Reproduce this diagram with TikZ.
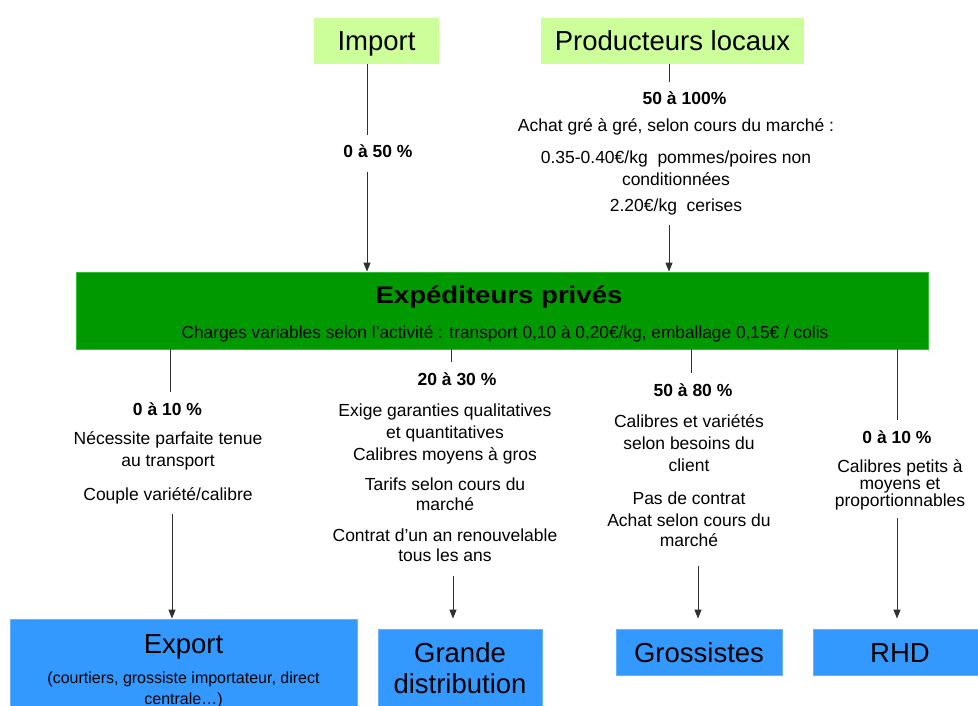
\documentclass[tikz,border=0pt]{standalone}
\usepackage{fontspec}
\setmainfont{Liberation Sans}
\usetikzlibrary{arrows.meta, positioning, calc}
\definecolor{lightgreen}{HTML}{CCFF99}
\definecolor{darkgreen}{HTML}{009900}
\definecolor{edgegreen}{HTML}{33BB33}
\definecolor{skyblue}{HTML}{3399FF}
\definecolor{linegray}{HTML}{303030}
\newcommand{\bigtxt}{\fontsize{27.5}{31}\selectfont}
\newcommand{\midtxt}{\fontsize{17.5}{22}\selectfont}
\newcommand{\smalltxt}{\fontsize{16}{21}\selectfont}

\begin{document}
\begin{tikzpicture}[x=1pt, y=-1pt, >={Triangle[length=9pt,width=7pt]},
    source/.style={fill=lightgreen, minimum height=46pt, inner sep=0pt, font=\bigtxt,
        text height=20pt, text depth=0pt},
    client/.style={fill=skyblue, draw=skyblue!75!white, line width=0.8pt, inner sep=0pt},
    pct/.style={font=\midtxt\bfseries, inner xsep=0pt, inner ysep=7pt, anchor=base,
        execute at begin node=\strut},
    note/.style={font=\midtxt, align=center, inner xsep=0pt, inner ysep=7pt, anchor=north,
        execute at begin node=\strut, execute at end node=\strut},
    link/.style={draw=linegray, line width=1pt}]
    \useasboundingbox (0,0) rectangle (978,706);

    % Sources
    \node[source, minimum width=125pt] (imp) at (376.5,41) {Import};
    \node[source, minimum width=263pt] (prod) at (672.5,41) {Producteurs locaux};

    % Shippers
    \node[fill=darkgreen, draw=edgegreen, line width=0.8pt, minimum width=852pt,
        minimum height=77pt] (exped) at (502,310.5) {};
    \node[font=\fontsize{24}{28}\selectfont\bfseries\addfontfeature{FakeStretch=1.15},
        text height=17pt, text depth=0pt, inner sep=0pt] (exptitle) at (499,294.5) {Expéditeurs privés};
    \node[font=\fontsize{17.3}{20}\selectfont, text height=12.5pt, text depth=0pt, inner sep=0pt]
        (expsub) at (505,332.5)
        {Charges variables selon l'activité : transport 0,10 à 0,20€/kg, emballage 0,15€ / colis};

    % Clients
    \node[client, minimum width=347pt, minimum height=96pt] (export) at (183.5,667) {};
    \node[font=\bigtxt, text height=20pt, text depth=0pt, inner sep=0pt] (exptxt) at (183.5,643) {Export};
    \node[font=\smalltxt, align=center] (expnote) at (183.5,690)
        {(courtiers, grossiste importateur, direct\\ centrale…)};
    \node[client, minimum width=164pt, minimum height=86pt] (gd) at (460,672) {};
    \node[font=\bigtxt, align=center] (gdtxt) at (460,668) {Grande\\ distribution};
    \node[client, minimum width=166pt, minimum height=46pt, font=\bigtxt,
        text height=20pt, text depth=0pt] (gross) at (699,652) {Grossistes};
    \node[client, minimum width=174pt, minimum height=46pt, font=\bigtxt,
        text height=20pt, text depth=0pt] (rhd) at (900,652) {RHD};

    % Shares and notes
    \node[pct] (p0) at (378,158) {0 à 50 \%};
    \node[pct] (p1) at (684.5,105) {50 à 100\%};
    \node[note] (t1) at (676,111) {Achat gré à gré, selon cours du marché :\\[10pt]
        0.35-0.40€/kg\ \ pommes/poires non\\ conditionnées\\[4pt] 2.20€/kg\ \ cerises};
    \node[pct] (pa) at (167.5,415) {0 à 10 \%};
    \node[note] (ta) at (168,424) {Nécessite parfaite tenue\\ au transport\\[12pt] Couple variété/calibre};
    \node[pct] (pb) at (457,385) {20 à 30 \%};
    \node[note] (tb) at (445,397) {Exige garanties qualitatives\\ et quantitatives\\ Calibres moyens à gros\\[8pt]
        Tarifs selon cours du\\[-2pt] marché\\[9pt] Contrat d’un an renouvelable\\[-2pt] tous les ans};
    \node[pct] (pc) at (693,396) {50 à 80 \%};
    \node[note] (tc) at (689,407) {Calibres et variétés\\ selon besoins du\\ client\\[11pt]
        Pas de contrat\\ Achat selon cours du\\[-2pt] marché};
    \node[pct] (pd) at (897,443) {0 à 10 \%};
    \node[note, font=\fontsize{17.5}{17}\selectfont] (td) at (900,452) {Calibres petits à\\ moyens et\\ proportionnables};

    % Line positions
    \coordinate (ximp) at (367,0);
    \coordinate (xprod) at (669,0);
    \foreach \n/\x in {a/170, b/451, c/691, d/897, a2/172, b2/453, c2/698} {
        \coordinate (x\n) at (\x,0);
    }

    % Draw the flows
    \draw[link] (imp.south -| ximp) -- (p0.north -| ximp);
    \draw[link, ->] (p0.south -| ximp) -- (exped.north -| ximp);
    \draw[link] (prod.south -| xprod) -- (p1.north -| xprod);
    \draw[link, ->] (t1.south -| xprod) -- (exped.north -| xprod);
    \draw[link] (exped.south -| xa) -- (pa.north -| xa);
    \draw[link, ->] (ta.south -| xa2) -- (export.north -| xa2);
    \draw[link] (exped.south -| xb) -- (pb.north -| xb);
    \draw[link, ->, shorten >=10pt] (tb.south -| xb2) -- (gd.north -| xb2);
    \draw[link] (exped.south -| xc) -- (pc.north -| xc);
    \draw[link, ->, shorten <=6pt, shorten >=10pt] (tc.south -| xc2) -- (gross.north -| xc2);
    \draw[link] (exped.south -| xd) -- (pd.north -| xd);
    \draw[link, ->, shorten >=10pt] (td.south -| xd) -- (rhd.north -| xd);
\end{tikzpicture}
\end{document}
